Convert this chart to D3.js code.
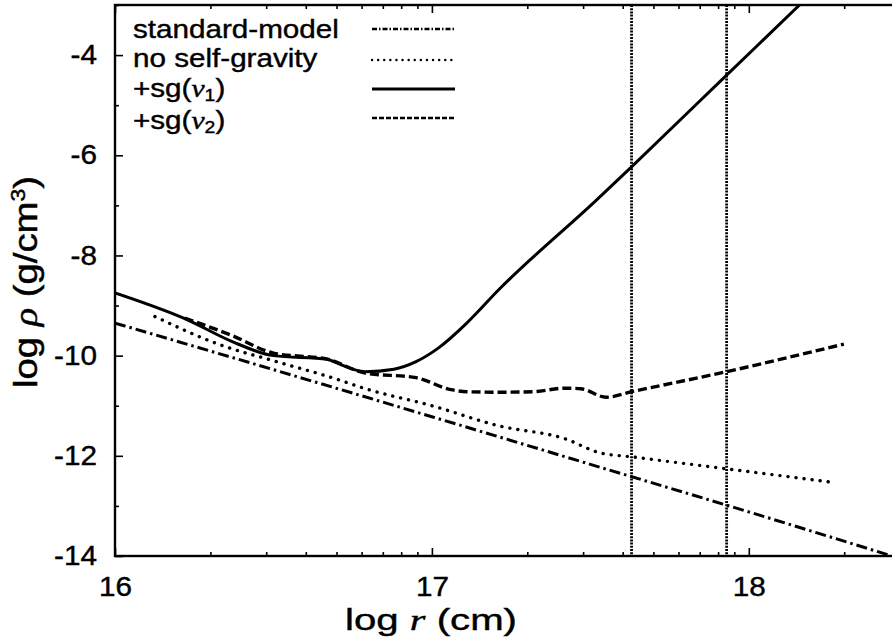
<!DOCTYPE html>
<html lang="en">
<head>
<meta charset="UTF-8">
<title>density profiles</title>
<script src="https://cdn.jsdelivr.net/npm/d3@7"></script>
<style>
    body{ margin:0; background:#fff; }
    svg{ display:block; }
    text{ font-family: "Liberation Sans", Arial, Helvetica, sans-serif; fill:#000; stroke:#000; stroke-width:0.4px; }
</style>
</head>
<body>
<svg id="fig" width="892" height="639"></svg>
<script>
    // log r values (x) and log rho values (y)
    let std_logr = [16.0, 16.5, 17.0, 17.5, 18.0, 18.477]
    let std_rho  = [-9.35, -10.28, -11.22, -12.17, -13.12, -14.05]

    let nosg_logr = [16.126, 16.33, 16.51, 16.69, 16.79, 17.0, 17.21, 17.42, 17.53, 17.63, 17.93, 18.265]
    let nosg_rho  = [-9.22, -9.78, -10.12, -10.45, -10.66, -11.0, -11.4, -11.66, -11.94, -12.02, -12.26, -12.53]

    let sg1_logr = [16.0, 16.23, 16.37, 16.5, 16.67, 16.69, 16.79, 16.88, 16.95, 17.02, 17.11, 17.21, 17.52, 17.63, 17.93, 18.16, 18.25]
    let sg1_rho  = [-8.75, -9.29, -9.72, -10.0, -10.07, -10.12, -10.32, -10.27, -10.12, -9.85, -9.35, -8.69, -6.89, -6.23, -4.40, -3.0, -2.45]

    let sg2_logr = [16.22, 16.37, 16.5, 16.67, 16.79, 16.95, 17.06, 17.11, 17.21, 17.32, 17.42, 17.47, 17.55, 17.63, 17.93, 18.3]
    let sg2_rho  = [-9.25, -9.6, -9.95, -10.07, -10.35, -10.44, -10.68, -10.72, -10.73, -10.72, -10.65, -10.66, -10.83, -10.72, -10.32, -9.77]

    let marker_logr = [17.63, 17.93]

    let x_ticks = [16, 17, 18]
    let y_ticks = [-4, -6, -8, -10, -12, -14]
    let y_minor = [-3, -5, -7, -9, -11, -13]

    let legend_names = ["standard-model", "no self-gravity", "+sg(ν1)", "+sg(ν2)"]

    // layout
    let p_left = 115, p_top = 5, p_right = 900, p_bottom = 556
    let fs = 27
    let sx = 1.1   // the figure's text is a bit stretched sideways

    let svg = d3.select("#fig")

    let x_scale = d3.scaleLog()
        .domain([1e16, 3e18])
        .range([p_left, p_right])
    let y_scale = d3.scaleLinear()
        .domain([-14, -3])
        .range([p_bottom, p_top])

    // minor ticks of the log axis: 2..9 times each decade
    let x_minor = []
    for (let dec = 16; dec <= 18; dec++) {
        for (let k = 2; k <= 9; k++) {
            let r = k * Math.pow(10, dec)
            if (r < 3e18) x_minor.push(r)
        }
    }

    svg.append("defs").append("clipPath").attr("id", "clip")
        .append("rect")
        .attr("x", p_left).attr("y", p_top)
        .attr("width", p_right - p_left).attr("height", p_bottom - p_top)

    // frame
    svg.append("rect")
        .attr("x", p_left).attr("y", p_top)
        .attr("width", p_right - p_left).attr("height", p_bottom - p_top)
        .attr("fill", "none").attr("stroke", "#000").attr("stroke-width", 2.4)

    function style_axis(g){
        g.select(".domain").remove()
        g.selectAll("line").attr("stroke", "#000").attr("stroke-width", 1.6)
    }

    // bottom axis
    let x_axis = d3.axisBottom(x_scale)
        .tickValues(x_ticks.map(d => Math.pow(10, d)))
        .tickFormat(d => Math.round(Math.log10(d)))
        .tickSizeInner(-8).tickSizeOuter(0).tickPadding(21)
    svg.append("g").attr("transform", `translate(0,${p_bottom})`).call(x_axis).call(style_axis)
        .selectAll("text").attr("font-size", fs).attr("dy", "0.71em")
        .attr("transform", `scale(${sx},1)`)
    svg.append("g").attr("transform", `translate(0,${p_bottom})`)
        .call(d3.axisBottom(x_scale).tickValues(x_minor).tickFormat("").tickSizeInner(-4).tickSizeOuter(0))
        .call(style_axis)

    // top axis (mirror)
    svg.append("g").attr("transform", `translate(0,${p_top})`)
        .call(d3.axisTop(x_scale).tickValues(x_ticks.map(d => Math.pow(10, d))).tickFormat("").tickSizeInner(-8).tickSizeOuter(0))
        .call(style_axis)
    svg.append("g").attr("transform", `translate(0,${p_top})`)
        .call(d3.axisTop(x_scale).tickValues(x_minor).tickFormat("").tickSizeInner(-4).tickSizeOuter(0))
        .call(style_axis)

    // left axis
    let y_axis = d3.axisLeft(y_scale)
        .tickValues(y_ticks)
        .tickFormat(d => d)
        .tickSizeInner(-8).tickSizeOuter(0)
    let yg = svg.append("g").attr("transform", `translate(${p_left},0)`).call(y_axis).call(style_axis)
    yg.selectAll("text").attr("font-size", fs)
        .attr("transform", `scale(${sx},1)`)
        .attr("x", -18 / sx)
    svg.append("g").attr("transform", `translate(${p_left},0)`)
        .call(d3.axisLeft(y_scale).tickValues(y_minor).tickFormat("").tickSizeInner(-4).tickSizeOuter(0))
        .call(style_axis)

    // right axis (mirror)
    svg.append("g").attr("transform", `translate(${p_right},0)`)
        .call(d3.axisRight(y_scale).tickValues(y_ticks).tickFormat("").tickSizeInner(-8).tickSizeOuter(0))
        .call(style_axis)
    svg.append("g").attr("transform", `translate(${p_right},0)`)
        .call(d3.axisRight(y_scale).tickValues(y_minor).tickFormat("").tickSizeInner(-4).tickSizeOuter(0))
        .call(style_axis)

    // axis titles
    let xt = svg.append("text")
        .attr("transform", `translate(431,630)`)
        .attr("text-anchor", "middle")
        .attr("font-size", 30)
        .attr("textLength", 172)
        .attr("lengthAdjust", "spacingAndGlyphs")
    xt.append("tspan").text("log ")
    xt.append("tspan").attr("font-style", "italic").attr("font-family", "'Liberation Serif', serif").text("r")
    xt.append("tspan").text(" (cm)")

    let yt = svg.append("text")
        .attr("transform", `translate(37,282) rotate(-90) scale(1,${sx})`)
        .attr("text-anchor", "middle")
        .attr("font-size", 30)
        .attr("textLength", 212)
        .attr("lengthAdjust", "spacingAndGlyphs")
    yt.append("tspan").text("log ")
    yt.append("tspan").attr("font-style", "italic").attr("font-family", "'Liberation Serif', serif").text("ρ")
    yt.append("tspan").text(" (g/cm")
    yt.append("tspan").attr("font-size", 18).attr("dy", -11).text("3")
    yt.append("tspan").attr("dy", 11).text(")")

    // series
    let line = d3.line()
        .x(d => x_scale(Math.pow(10, d[0])))
        .y(d => y_scale(d[1]))
        .curve(d3.curveMonotoneX)

    let series = [
        {name: legend_names[0], pts: d3.zip(std_logr, std_rho),   dash: "11,4,2.5,4", width: 3},
        {name: legend_names[1], pts: d3.zip(nosg_logr, nosg_rho), dash: "0.1,8",      width: 3.4, cap: "round"},
        {name: legend_names[2], pts: d3.zip(sg1_logr, sg1_rho),   dash: null,         width: 3},
        {name: legend_names[3], pts: d3.zip(sg2_logr, sg2_rho),   dash: "9,4",        width: 3.4}
    ]

    let curves = svg.append("g").attr("clip-path", "url(#clip)")

    // vertical marker lines
    curves.selectAll(".marker")
        .data(marker_logr)
        .join("line")
        .attr("class", "marker")
        .attr("x1", d => x_scale(Math.pow(10, d)))
        .attr("x2", d => x_scale(Math.pow(10, d)))
        .attr("y1", p_top).attr("y2", p_bottom)
        .attr("stroke", "#000").attr("stroke-width", 2.8)
        .attr("stroke-dasharray", "2,1.2")

    curves.selectAll(".series")
        .data(series)
        .join("path")
        .attr("class", "series")
        .attr("d", d => line(d.pts))
        .attr("fill", "none")
        .attr("stroke", "#000")
        .attr("stroke-width", d => d.width)
        .attr("stroke-linecap", d => d.cap || "butt")
        .attr("stroke-dasharray", d => d.dash)

    // legend
    let leg_fs = 26
    let leg_y = [38, 67, 97, 129]
    let leg_line_y = [29, 60, 89, 118]
    let legend = svg.append("g")
    series.forEach((s, i) => {
        let t = legend.append("text")
            .attr("transform", `translate(133,${leg_y[i]}) scale(1.14,1)`)
            .attr("font-size", leg_fs)
        if (i < 2) {
            t.text(s.name)
        } else {
            t.append("tspan").text("+sg(")
            t.append("tspan").attr("font-style", "italic").attr("font-family", "'Liberation Serif', serif").text("ν")
            t.append("tspan").attr("font-size", 17).attr("dy", 4).text(s.name.charAt(5))
            t.append("tspan").attr("dy", -4).text(")")
        }
        legend.append("line")
            .attr("x1", 372).attr("x2", 455)
            .attr("y1", leg_line_y[i]).attr("y2", leg_line_y[i])
            .attr("stroke", "#000")
            .attr("stroke-width", i === 2 ? 3.2 : 2.4)
            .attr("stroke-linecap", s.cap || "butt")
            .attr("stroke-dasharray", i === 0 ? "5,2,1.5,2" : i === 1 ? "0.1,6" : i === 3 ? "5,2" : null)
    })
</script>
</body>
</html>
